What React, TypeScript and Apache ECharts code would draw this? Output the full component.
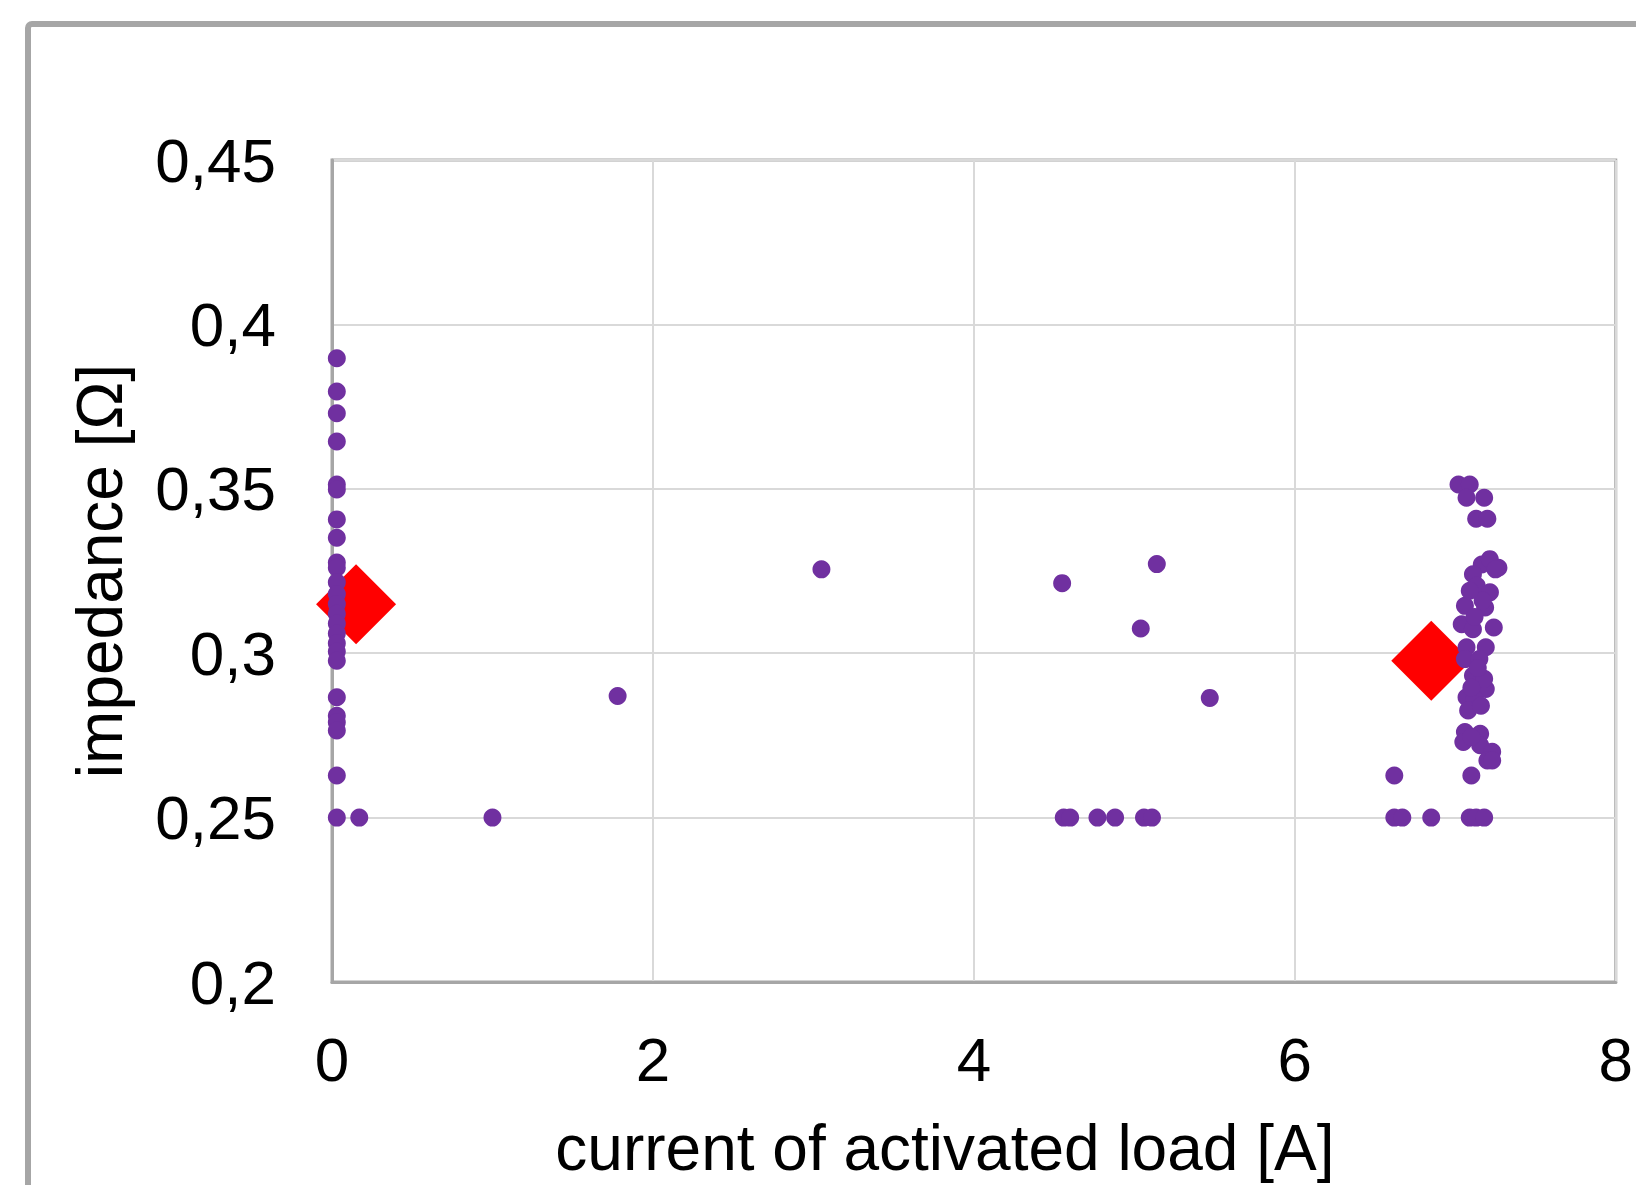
import React, { useEffect, useRef } from "react";
import * as echarts from "echarts";

// ---- data (current [A], impedance [Ω]) ----
const lowCurrentImpedance = [
  0.3897, 0.3796, 0.373, 0.3644, 0.3513, 0.3498, 0.3407, 0.3351, 0.3276, 0.326,
  0.3216, 0.318, 0.315, 0.312, 0.309, 0.306, 0.303, 0.3005, 0.2977, 0.2866,
  0.281, 0.279, 0.2765, 0.2628, 0.25,
];
const lowCurrentValue = 0.03;
const lowCurrentExtra: [number, number][] = [[0.17, 0.25]];

const midCurrentPoints: [number, number][] = [
  [1.0, 0.25], [1.78, 0.287], [3.05, 0.3255], [4.55, 0.3213], [5.14, 0.3271],
  [5.04, 0.3075], [5.47, 0.2864], [4.56, 0.25], [4.6, 0.25], [4.77, 0.25],
  [4.88, 0.25], [5.06, 0.25], [5.11, 0.25],
];

const highCurrentPoints: [number, number][] = [
  [6.62, 0.2628], [6.62, 0.25], [6.67, 0.25], [6.85, 0.25], [7.09, 0.25],
  [7.13, 0.25], [7.18, 0.25], [7.1, 0.2628],
  [7.06, 0.276], [7.155, 0.2755], [7.05, 0.273], [7.155, 0.272], [7.23, 0.27],
  [7.2, 0.2674], [7.23, 0.2674], [7.1, 0.2745],
  [7.07, 0.3018], [7.19, 0.3018], [7.06, 0.2982], [7.15, 0.2982], [7.11, 0.2932],
  [7.19, 0.2891], [7.07, 0.2866], [7.12, 0.2861], [7.08, 0.2826], [7.18, 0.2922],
  [7.16, 0.284], [7.1, 0.2895], [7.14, 0.2955],
  [7.165, 0.327], [7.269, 0.326], [7.11, 0.324], [7.215, 0.3286], [7.134, 0.3205],
  [7.216, 0.3185], [7.06, 0.3144], [7.186, 0.3139], [7.04, 0.3088], [7.11, 0.3073],
  [7.24, 0.3078], [7.25, 0.3255], [7.12, 0.311], [7.17, 0.316], [7.09, 0.319],
  [7.02, 0.3513], [7.09, 0.3513], [7.07, 0.3473], [7.18, 0.3473], [7.13, 0.3409],
  [7.2, 0.3409],
];

const meanPoints: [number, number][] = [
  [0.15, 0.3149],
  [6.85, 0.2977],
];

const xTicks = { min: 0, max: 8, interval: 2 };
const yTicks = { min: 0.2, max: 0.45, interval: 0.05 };

const FONT = "'Liberation Sans', Arial, sans-serif";
const GRAY = "#a6a6a6";

export default function App() {
  const ref = useRef<HTMLDivElement>(null);

  useEffect(() => {
    document.body.style.margin = "0";
    const chart = echarts.init(ref.current!, null, { renderer: "svg" });
    const measured: [number, number][] = [
      ...lowCurrentImpedance.map((y) => [lowCurrentValue, y] as [number, number]),
      ...lowCurrentExtra,
      ...midCurrentPoints,
      ...highCurrentPoints,
    ];
    chart.setOption({
      animation: false,
      backgroundColor: "#ffffff",
      grid: {
        left: 332,
        top: 160,
        right: 17,
        bottom: 201,
        show: true,
        borderColor: GRAY,
        borderWidth: 3,
        backgroundColor: "transparent",
      },
      graphic: [
        {
          type: "rect",
          shape: { x: 28, y: 24, width: 1800, height: 1400, r: 4 },
          style: { fill: "none", stroke: GRAY, lineWidth: 6 },
          silent: true,
        },
      ],
      xAxis: {
        type: "value",
        min: xTicks.min,
        max: xTicks.max,
        interval: xTicks.interval,
        name: "current of activated load [A]",
        nameLocation: "middle",
        nameGap: 134,
        nameTextStyle: {
          fontFamily: FONT,
          fontSize: 64,
          color: "#000",
          padding: [0, 58, 0, 0],
        },
        axisLine: { show: true, lineStyle: { color: GRAY, width: 3 } },
        axisTick: { show: false },
        splitLine: { show: true, lineStyle: { color: "#d9d9d9", width: 2 } },
        axisLabel: {
          fontFamily: FONT,
          fontSize: 62,
          color: "#000",
          margin: 46,
          formatter: (v: number) => String(v),
        },
      },
      yAxis: {
        type: "value",
        min: yTicks.min,
        max: yTicks.max,
        interval: yTicks.interval,
        name: "impedance [Ω]",
        nameLocation: "middle",
        nameGap: 200,
        nameTextStyle: { fontFamily: FONT, fontSize: 64, color: "#000" },
        axisLine: { show: true, lineStyle: { color: GRAY, width: 3 } },
        axisTick: { show: false },
        splitLine: { show: true, lineStyle: { color: "#d9d9d9", width: 2 } },
        axisLabel: {
          fontFamily: FONT,
          fontSize: 62,
          color: "#000",
          margin: 56,
          formatter: (v: number) => String(+v.toFixed(2)).replace(".", ","),
        },
      },
      series: [
        {
          type: "scatter",
          name: "mean",
          data: meanPoints,
          symbol: "diamond",
          symbolSize: 80,
          itemStyle: { color: "#ff0000", opacity: 1 },
          z: 2,
        },
        {
          type: "scatter",
          name: "measured",
          data: measured,
          symbol: "circle",
          symbolSize: 18,
          itemStyle: { color: "#7030a0", opacity: 1 },
          z: 3,
        },
      ],
    });
    return () => chart.dispose();
  }, []);

  return <div ref={ref} style={{ width: 1636, height: 1185 }} />;
}
